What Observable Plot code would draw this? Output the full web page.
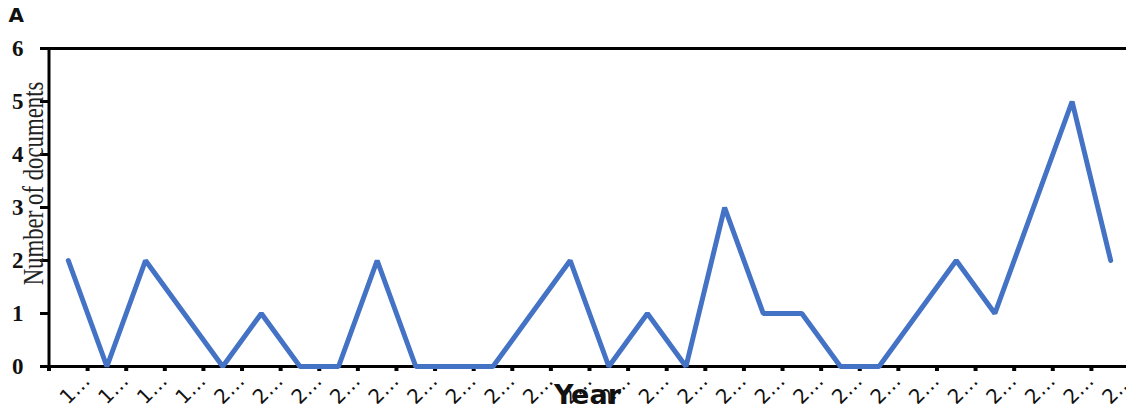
<!DOCTYPE html>
<html>
<head>
<meta charset="utf-8">
<script src="https://cdn.jsdelivr.net/npm/d3@7"></script>
<script src="https://cdn.jsdelivr.net/npm/@observablehq/plot@0.6"></script>
<style>
  html, body { margin: 0; padding: 0; background: #fff; overflow: hidden; }
  #chart svg { display: block; }
</style>
</head>
<body>
<div id="chart"></div>
<script>
const years = [1996,1997,1998,1999,2000,2001,2002,2003,2004,2005,2006,2007,2008,2009,2010,2011,2012,2013,2014,2015,2016,2017,2018,2019,2020,2021,2022,2023];
const documents = [2,0,2,1,0,1,0,0,2,0,0,0,1,2,0,1,0,3,1,1,0,0,1,2,1,3,5,2];
const yTicks = [0,1,2,3,4,5,6];
const panelLabel = "A";
const xTitle = "Year";
const yTitle = "Number of documents";

const data = years.map((y, i) => ({year: y, value: documents[i]}));
const W = 1126, H = 414;
const x0 = 48.5, x1 = 1129.5;
const bw = (x1 - x0) / years.length;

const chart = Plot.plot({
  width: W,
  height: H,
  marginLeft: 48,
  marginRight: 0,
  marginTop: 48,
  marginBottom: 48,
  x: {type: "band", domain: years, range: [x0, x1], padding: 0, round: false},
  y: {domain: [0, 6], range: [366, 48]},
  marks: [
    // x tick marks at band edges
    Plot.axisX({anchor: "bottom", tickSize: 5, tickFormat: () => "", strokeWidth: 4, dx: -bw / 2, label: null}),
    // x tick labels
    Plot.axisX({anchor: "bottom", tickSize: 0, tickPadding: 3, tickRotate: -45,
      tickFormat: d => String(d)[0] + "…", dx: bw / 2 - 1, dy: 8,
      fontSize: 20, fontFamily: "DejaVu Sans", fill: "#111", label: null}),
    Plot.axisY({ticks: yTicks, tickFormat: d3.format("d"), tickSize: 8, tickPadding: 17, strokeWidth: 3,
      fontSize: 23, fontWeight: "bold", fontFamily: "Liberation Serif", fill: "#111", label: null}),
    Plot.ruleY([0, 6], {stroke: "#000", strokeWidth: 3}),
    Plot.ruleX([years[0]], {stroke: "#000", strokeWidth: 3, dx: -bw / 2}),
    Plot.line(data, {x: "year", y: "value", stroke: "#4472C4", strokeWidth: 5, strokeLinejoin: "miter"}),
    Plot.text([yTitle], {frameAnchor: "left", rotate: -90, dx: -15, dy: -24,
      fontSize: 30, fontFamily: "Liberation Serif", fill: "#222", textAnchor: "middle",
      className: "ytitle"}),
    Plot.text([xTitle], {frameAnchor: "bottom", dy: 37, fontSize: 27, fontWeight: "bold",
      fontFamily: "DejaVu Sans", fill: "#111"}),
    Plot.text([panelLabel], {frameAnchor: "top-left", dx: -40, dy: -41, fontSize: 20, fontWeight: "bold",
      fontFamily: "DejaVu Sans", fill: "#111"})
  ]
});
document.getElementById("chart").appendChild(chart);
// condense the rotated y title along its length, as in the reference
d3.select(chart).selectAll(".ytitle text").attr("transform", function() {
  return (this.getAttribute("transform") || "") + " scale(0.76,1)";
});
</script>
</body>
</html>
